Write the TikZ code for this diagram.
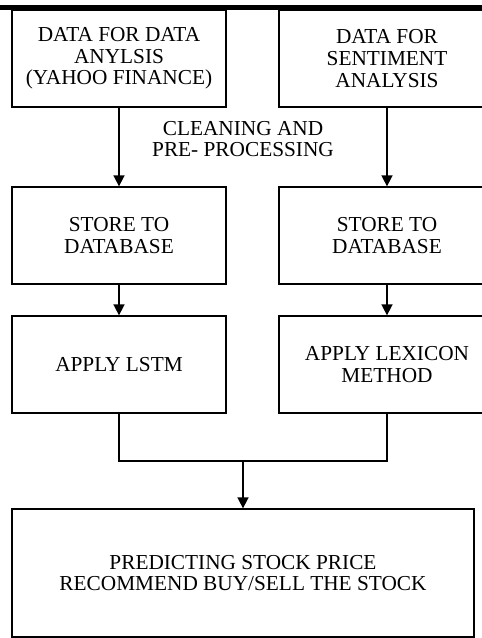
\documentclass[tikz,border=0pt]{standalone}
\usepackage{fontspec}
\setmainfont{Liberation Serif}
\usepackage{tikz}
\usetikzlibrary{arrows.meta}

\tikzset{
stepbox/.style={draw, line width=1.3pt, inner sep=0pt, align=center, font=\fontsize{21.3}{21.7}\selectfont},
flow/.style={line width=1.6pt, -{Triangle[width=11pt,length=11pt]}},
}

\begin{document}
\begin{tikzpicture}[x=1pt,y=-1pt]
\useasboundingbox (0,0) rectangle (482,638);
\fill (0,5) rectangle (482,9.5);
\node[stepbox, minimum width=214pt, minimum height=97pt] (dataA) at (119,58.5) {DATA FOR DATA\\ANYLSIS\\(YAHOO FINANCE)};
\node[stepbox, minimum width=216pt, minimum height=97pt] (dataS) at (387,58.5) {DATA FOR\\SENTIMENT\\ANALYSIS};
\node[align=center, inner sep=0pt, font=\fontsize{21.3}{21.7}\selectfont] (clean) at (243,139) {CLEANING AND\\PRE- PROCESSING};
\node[stepbox, minimum width=214pt, minimum height=97pt] (storeA) at (119,235.5) {STORE TO\\DATABASE};
\node[stepbox, minimum width=216pt, minimum height=97pt] (storeS) at (387,235.5) {STORE TO\\DATABASE};
\node[stepbox, minimum width=214pt, minimum height=97pt] (lstm) at (119,364.5) {APPLY LSTM};
\node[stepbox, minimum width=216pt, minimum height=97pt] (lex) at (387,364.5) {APPLY LEXICON\\METHOD};
\node[stepbox, minimum width=462pt, minimum height=128pt] (pred) at (243,573) {PREDICTING STOCK PRICE\\RECOMMEND BUY/SELL THE STOCK};
\coordinate (join) at (243,461);
\draw[flow] (dataA) -- (storeA);
\draw[flow] (dataS) -- (storeS);
\draw[flow] (storeA) -- (lstm);
\draw[flow] (storeS) -- (lex);
\draw[line width=1.3pt] (lstm.south) |- (join) -| (lex.south);
\draw[flow] (join) -- (pred);
\end{tikzpicture}
\end{document}
